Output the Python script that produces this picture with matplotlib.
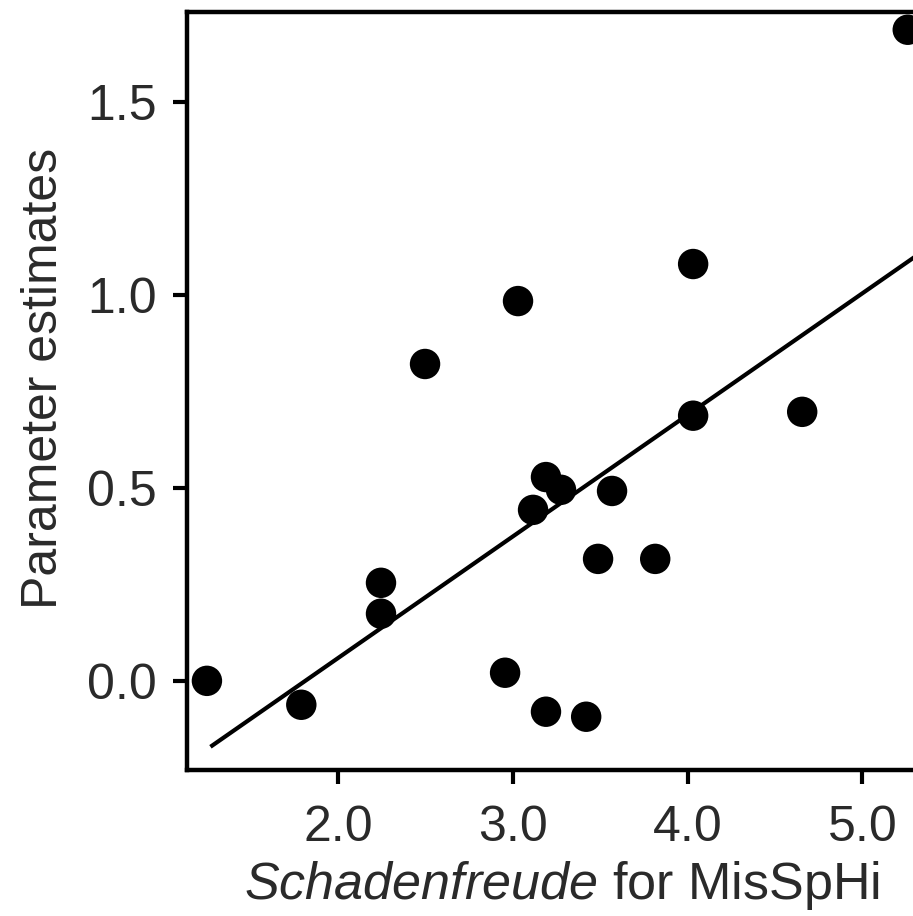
import matplotlib
matplotlib.use("Agg")
import matplotlib.pyplot as plt
import numpy as np

# Data
schadenfreude = [1.25, 1.79, 2.246, 2.246, 2.498, 2.956, 3.03, 3.19, 3.42, 3.116,
                 3.19, 3.276, 3.488, 3.568, 3.815, 4.032, 4.032, 4.656, 5.26]
param_est = [0.0, -0.062, 0.254, 0.174, 0.821, 0.021, 0.984, -0.080, -0.093, 0.443,
             0.528, 0.495, 0.316, 0.492, 0.316, 1.080, 0.687, 0.697, 1.687]
fit_slope = 0.315
fit_intercept = -0.571
x_ticks = [2.0, 3.0, 4.0, 5.0]
x_ticklabels = ["2.0", "3.0", "4.0", "5.0"]
y_ticks = [0.0, 0.5, 1.0, 1.5]
y_ticklabels = ["0.0", "0.5", "1.0", "1.5"]

plt.rcParams['font.family'] = ['Liberation Sans', 'DejaVu Sans']
plt.rcParams['mathtext.fontset'] = 'custom'
plt.rcParams['mathtext.it'] = 'Liberation Sans:italic'
plt.rcParams['mathtext.rm'] = 'Liberation Sans'

fig = plt.figure(figsize=(9.13, 9.16), dpi=100)
ax = fig.add_axes([187/913, (916-770)/916, 1 - 187/913, (770-12)/916])

ax.scatter(schadenfreude, param_est, s=480, color='black', edgecolors='none', zorder=3)
xl = np.array([min(schadenfreude) + 0.03, 5.4])
ax.plot(xl, fit_intercept + fit_slope * xl, color='black', lw=3.0, zorder=2)

ax.set_xlim(1.136, 5.29)
ax.set_ylim(-0.231, 1.733)
ax.set_xticks(x_ticks)
ax.set_xticklabels(x_ticklabels)
ax.set_yticks(y_ticks)
ax.set_yticklabels(y_ticklabels)

for s in ['left', 'bottom', 'top']:
    ax.spines[s].set_linewidth(3.2)
    ax.spines[s].set_color('black')
ax.spines['right'].set_visible(False)

textc = '#2a2a2a'
ax.tick_params(axis='both', length=10, width=3, color='black', labelsize=36,
               labelcolor=textc, direction='out')
ax.tick_params(axis='x', pad=15)
ax.tick_params(axis='y', pad=12)

ax.set_ylabel('Parameter estimates', fontsize=36, color=textc)
ax.yaxis.set_label_coords(-0.165, 0.517)
ax.set_xlabel(r'$\mathit{Schadenfreude}$ for MisSpHi', fontsize=37.5, color=textc)
ax.xaxis.set_label_coords(0.5165, -0.118)

fig.savefig('out.png', dpi=100)
